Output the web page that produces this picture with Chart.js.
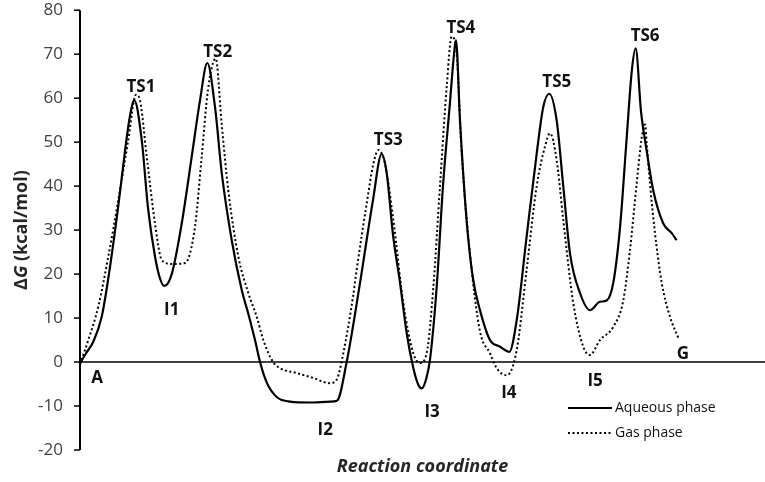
<!DOCTYPE html>
<html>
<head>
<meta charset="utf-8">
<script src="https://cdn.jsdelivr.net/npm/chart.js@4.4.1/dist/chart.umd.min.js"></script>
<style>
  html, body { margin: 0; padding: 0; background: #fff; }
  #wrap { width: 765px; height: 482px; }
</style>
</head>
<body>
<div id="wrap"><canvas id="myChart"></canvas></div>
<script>
// reaction coordinate (arbitrary units) and free energy, kcal/mol
const aqX = [0, 0.88, 1.94, 3.17, 4.09, 5.55, 6.57, 7.3, 7.93, 9.01, 9.93, 10.95, 11.68, 12.31, 13.39, 14.85, 16.31, 17.52, 18.58, 19.71, 20.69, 22.15, 23.61, 24.57, 24.82, 25.55, 26.28, 27.3, 28.76, 30.66, 33.58, 36.5, 37.52, 38.93, 40.88, 42.77, 44.04, 44.77, 45.69, 46.72, 47.69, 48.61, 49.34, 49.88, 50.51, 51.09, 52.07, 52.99, 54.01, 54.6, 54.89, 55.47, 56.45, 57.37, 58.39, 59.85, 61.31, 62.67, 63.75, 65.2, 66.67, 67.63, 68.5, 69.58, 70.55, 71.53, 72.99, 74.45, 75.91, 76.89, 77.85, 78.83, 79.81, 80.54, 81.12, 81.9, 82.73, 83.69, 85.15, 86.38, 87.1]
const aqY = [-0.3, 2, 4.6, 10.3, 18.6, 35, 48, 56, 59.5, 50.5, 35, 24, 19, 17.3, 20, 31.5, 46.7, 59.5, 68, 58, 43, 27.7, 16.4, 11, 9.5, 5, 0, -4.8, -8, -9, -9.2, -9, -8.8, 0, 18, 36.8, 47.3, 43, 29, 18, 6.6, -1, -5, -6, -4, 0.5, 17, 40, 59, 70, 73.2, 55, 32, 19, 11.8, 5, 3.5, 2.3, 9.5, 28.5, 47.4, 58, 61, 55, 40, 24.7, 15.7, 11.8, 13.7, 14, 18, 30.5, 51, 66, 71.3, 57, 48, 39, 31.5, 29.3, 27.7]

const gasX = [0, 1.21, 2.67, 4.13, 5.59, 7.05, 8.18, 8.76, 9.74, 10.95, 11.93, 13.39, 15.33, 16.79, 17.77, 18.69, 19.81, 20.69, 21.65, 23.11, 24.57, 25.8, 26.76, 28.18, 29.2, 31.64, 34.01, 36.5, 37.47, 38.44, 39.85, 40.39, 41.85, 42.82, 43.55, 44.53, 45.74, 47.2, 48.66, 49.64, 50.61, 51.58, 52.55, 53.53, 54.26, 54.99, 55.72, 56.93, 58.39, 59.85, 60.83, 62.29, 63.75, 65.2, 66.67, 67.88, 68.61, 69.58, 70.55, 72.01, 73.47, 74.45, 75.91, 77.85, 79.31, 80.29, 81.27, 82.0, 82.48, 82.73, 83.21, 83.94, 84.92, 86.13, 87.34]
const gasY = [-0.5, 5, 12.6, 24, 36.8, 50.5, 60.8, 59.5, 46.7, 31.5, 23.2, 22.3, 22.5, 30.8, 46.7, 62, 69, 54, 39, 24, 15.7, 10.3, 5, 0, -1.4, -2.5, -3.6, -4.8, -4, 2, 14.8, 21, 36, 45, 48.2, 45, 32.3, 13.4, 2, -0.2, 2, 17, 40, 62.5, 74, 70, 47.5, 24.7, 7, 2, -1.4, -3, 2.7, 21, 40, 49, 52, 46, 32.3, 13.4, 3.5, 1.6, 5, 8, 14, 25.5, 40.6, 51, 54, 49.7, 40.6, 29.3, 18, 10.3, 5.5]

// stationary point labels
const pointNames = ["TS1", "TS2", "TS3", "TS4", "TS5", "TS6", "A", "I1", "I2", "I3", "I4", "I5", "G"]
const pointX = [8.9, 20.1, 45.0, 55.6, 69.6, 82.5, 2.5, 13.4, 35.8, 51.4, 62.6, 75.2, 88.0]
const pointY = [62.5, 70.5, 50.5, 75.9, 63.6, 74.1, -3.6, 11.8, -15.5, -11.4, -7.0, -4.3, 1.8]

const yTicks = [-20, -10, 0, 10, 20, 30, 40, 50, 60, 70, 80]

const toPoints = (xs, ys) => xs.map((x, i) => ({x: x, y: ys[i]}))

// zero line, y axis line, point labels
const marks = {
    id: "marks",
    beforeDatasetsDraw(chart) {
        const ctx = chart.ctx
        const area = chart.chartArea
        const y0 = chart.scales.y.getPixelForValue(0)
        ctx.save()
        ctx.strokeStyle = "#000"
        ctx.lineWidth = 1.6
        ctx.beginPath()
        ctx.moveTo(area.left, y0)
        ctx.lineTo(area.right, y0)
        ctx.stroke()
        ctx.lineWidth = 2
        ctx.beginPath()
        ctx.moveTo(area.left, area.top)
        ctx.lineTo(area.left, area.bottom)
        ctx.stroke()
        ctx.lineWidth = 1.5
        yTicks.forEach(v => {
            const py = chart.scales.y.getPixelForValue(v)
            ctx.beginPath()
            ctx.moveTo(area.left - 6, py)
            ctx.lineTo(area.left, py)
            ctx.stroke()
        })
        ctx.restore()
    },
    afterDatasetsDraw(chart) {
        const ctx = chart.ctx
        const xs = chart.scales.x
        const ys = chart.scales.y
        ctx.save()
        ctx.font = "bold 17px 'Open Sans'"
        ctx.fillStyle = "#111"
        ctx.textAlign = "center"
        ctx.textBaseline = "middle"
        pointNames.forEach((name, i) => {
            ctx.fillText(name, xs.getPixelForValue(pointX[i]), ys.getPixelForValue(pointY[i]))
        })
        ctx.restore()
    }
}

// y title with italic G, and the legend box in the lower right
const extras = {
    id: "extras",
    afterDraw(chart) {
        const ctx = chart.ctx
        const area = chart.chartArea
        ctx.save()
        ctx.translate(22, (area.top + area.bottom) / 2)
        ctx.rotate(-Math.PI / 2)
        ctx.fillStyle = "#262626"
        ctx.textBaseline = "middle"
        const parts = [["Δ", "bold 18px 'Open Sans'"], ["G", "italic bold 18px 'Open Sans'"], [" (kcal/mol)", "bold 18px 'Open Sans'"]]
        let total = 0
        parts.forEach(p => { ctx.font = p[1]; total += ctx.measureText(p[0]).width })
        let x = -total / 2
        parts.forEach(p => {
            ctx.font = p[1]
            ctx.fillText(p[0], x, 0)
            x += ctx.measureText(p[0]).width
        })
        ctx.restore()

        ctx.save()
        ctx.font = "14px 'Open Sans'"
        ctx.textBaseline = "middle"
        chart.data.datasets.forEach((ds, i) => {
            const y = 408 + i * 25
            ctx.strokeStyle = ds.borderColor
            ctx.lineWidth = ds.borderWidth
            ctx.setLineDash(ds.borderDash || [])
            ctx.beginPath()
            ctx.moveTo(568, y)
            ctx.lineTo(612, y)
            ctx.stroke()
            ctx.fillStyle = "#111"
            ctx.fillText(ds.label, 615, y)
        })
        ctx.restore()
    }
}

const config = {
    type: "line",
    data: {
        datasets: [{
            label: "Aqueous phase",
            data: toPoints(aqX, aqY),
            borderColor: "#000",
            borderWidth: 2.2,
            pointRadius: 0,
            cubicInterpolationMode: "monotone"
        }, {
            label: "Gas phase",
            data: toPoints(gasX, gasY),
            borderColor: "#000",
            borderWidth: 2,
            borderDash: [2, 2.5],
            pointRadius: 0,
            cubicInterpolationMode: "monotone"
        }]
    },
    options: {
        responsive: true,
        maintainAspectRatio: false,
        animation: false,
        layout: {padding: {top: 0, right: 0, bottom: 0, left: 0}},
        plugins: {legend: {display: false}, tooltip: {enabled: false}},
        scales: {
            x: {
                type: "linear",
                min: 0,
                max: 100,
                ticks: {display: false},
                grid: {display: false},
                border: {display: false},
                title: {
                    display: true,
                    text: "Reaction coordinate",
                    color: "#262626",
                    font: {family: "'Open Sans'", size: 18, weight: "bold", style: "italic"},
                    padding: {top: 0, bottom: 4}
                },
                afterFit: (scale) => { scale.height = 32 }
            },
            y: {
                min: -20,
                max: 80,
                afterBuildTicks: (scale) => { scale.ticks = yTicks.map(v => ({value: v})) },
                ticks: {color: "#404040", font: {family: "'Open Sans'", size: 17}, padding: 0},
                grid: {display: true, drawOnChartArea: false, drawTicks: true, color: "rgba(0,0,0,0)", tickLength: 17},
                border: {display: false},
                afterFit: (scale) => { scale.width = 80 }
            }
        }
    },
    plugins: [marks, extras]
}

const chart = document.getElementById("myChart")
const myChart = new Chart(chart, config)
</script>
</body>
</html>
